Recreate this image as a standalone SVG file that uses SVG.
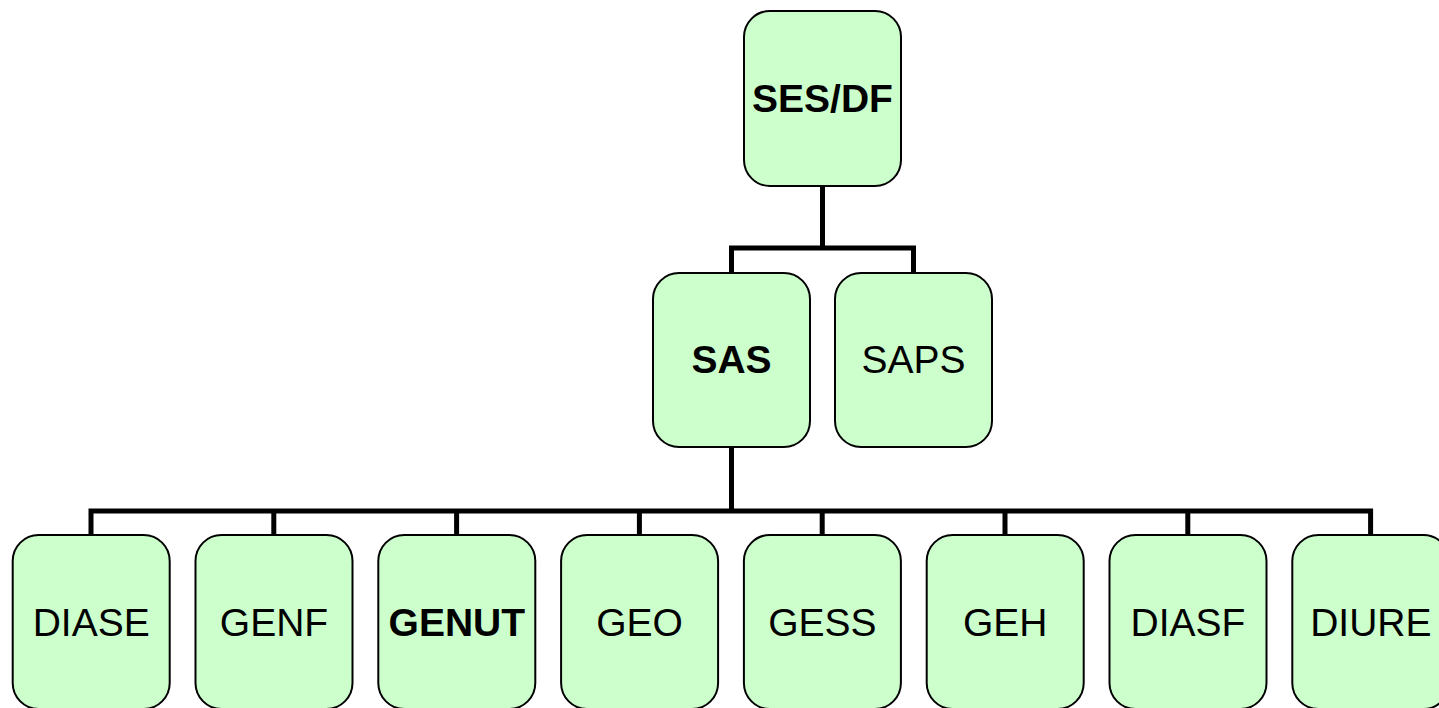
<svg xmlns="http://www.w3.org/2000/svg" width="1439" height="708" viewBox="0 0 1439 708">
<style>
.box{fill:#CCFFCC;stroke:#000;stroke-width:2}
.t{font-family:"Liberation Sans",Arial,sans-serif;font-size:39px;text-anchor:middle;fill:#000}
.b{font-weight:bold}
.c{fill:none;stroke:#000;stroke-width:5;stroke-linecap:square}
</style>
<rect width="1439" height="708" fill="#fff"/>
<g id="connectors">
<path class="c" d="M822.5 186V248M731.5 248H913.5M731.5 248V273M913.5 248V273"/>
<path class="c" d="M731.5 447V511M91 511H1370.6M91 511V535M273.8 511V535M456.6 511V535M639.4 511V535M822.2 511V535M1005 511V535M1187.8 511V535M1370.6 511V535"/>
</g>
<g id="n-sesdf"><rect class="box" x="744" y="11" width="157" height="175" rx="26"/><text class="t b" x="822.5" y="112">SES/DF</text></g>
<g id="n-sas"><rect class="box" x="653" y="273" width="157" height="174" rx="26"/><text class="t b" x="731.5" y="373">SAS</text></g>
<g id="n-saps"><rect class="box" x="835" y="273" width="157" height="174" rx="26"/><text class="t" x="913.5" y="373">SAPS</text></g>
<g id="n-diase"><rect class="box" x="12.7" y="535" width="157" height="174" rx="26"/><text class="t" x="91.2" y="636">DIASE</text></g>
<g id="n-genf"><rect class="box" x="195.5" y="535" width="157" height="174" rx="26"/><text class="t" x="274" y="636">GENF</text></g>
<g id="n-genut"><rect class="box" x="378.3" y="535" width="157" height="174" rx="26"/><text class="t b" x="456.8" y="636">GENUT</text></g>
<g id="n-geo"><rect class="box" x="561.1" y="535" width="157" height="174" rx="26"/><text class="t" x="639.6" y="636">GEO</text></g>
<g id="n-gess"><rect class="box" x="743.9" y="535" width="157" height="174" rx="26"/><text class="t" x="822.4" y="636">GESS</text></g>
<g id="n-geh"><rect class="box" x="926.7" y="535" width="157" height="174" rx="26"/><text class="t" x="1005.2" y="636">GEH</text></g>
<g id="n-diasf"><rect class="box" x="1109.5" y="535" width="157" height="174" rx="26"/><text class="t" x="1188" y="636">DIASF</text></g>
<g id="n-diure"><rect class="box" x="1292.3" y="535" width="157" height="174" rx="26"/><text class="t" x="1370.8" y="636">DIURE</text></g>
</svg>
